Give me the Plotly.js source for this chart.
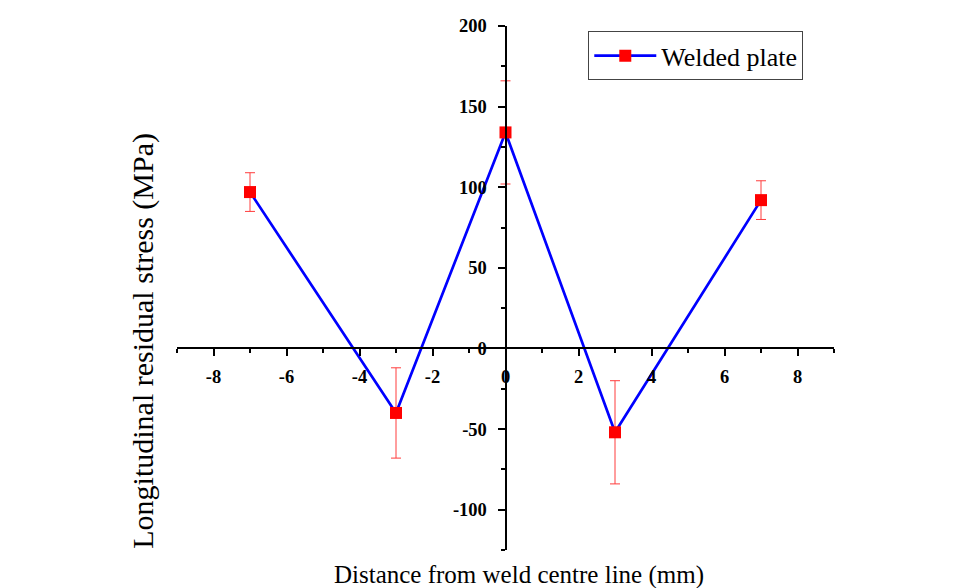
<!DOCTYPE html>
<html>
<head>
<meta charset="utf-8">
<script src="https://cdn.plot.ly/plotly-3.0.1.min.js"></script>
<style>
  html, body { margin: 0; padding: 0; background: #ffffff; }
  #chart { width: 954px; height: 588px; }
</style>
</head>
<body>
<div id="chart"></div>
<script>
// Longitudinal residual stress across the weld
const distanceMm = [-7, -3, 0, 3, 7];
const stressMPa = [97, -40, 134, -52, 92];
const stressErr = [12, 28, 32, 32, 12];
const seriesName = 'Welded plate';
const xTitle = 'Distance from weld centre line (mm)';
const yTitle = 'Longitudinal residual stress (MPa)';

const xTickVals = [-8, -6, -4, -2, 0, 2, 4, 6, 8];
const xTickText = ['-8', '-6', '-4', '-2', '0', '2', '4', '6', '8'];
const yTickVals = [-100, -50, 0, 50, 100, 150, 200];
const yTickText = ['-100', '-50', '0', '50', '100', '150', '200'];

const xRange = [-9, 9];
const yRange = [-125, 200];

const serif = 'Liberation Serif';

const trace = {
  type: 'scatter',
  mode: 'lines+markers',
  name: seriesName,
  x: distanceMm,
  y: stressMPa,
  line: { color: '#0000ff', width: 2.7 },
  marker: { symbol: 'square', size: 12, color: '#ff0000' },
  error_y: {
    type: 'data',
    array: stressErr,
    visible: true,
    color: '#ff3c3c',
    thickness: 1,
    width: 5
  }
};

// axes cross at the origin: place each axis line at the other axis' zero
const xAxisPos = (0 - yRange[0]) / (yRange[1] - yRange[0]);
const yAxisPos = (0 - xRange[0]) / (xRange[1] - xRange[0]);

const tickFont = { family: serif, size: 18.5, color: '#000000', weight: 700 };

const layout = {
  width: 954,
  height: 588,
  paper_bgcolor: '#ffffff',
  plot_bgcolor: 'rgba(0,0,0,0)',
  margin: { l: 177, r: 120, t: 26, b: 38 },
  showlegend: true,
  legend: {
    x: 0.626, y: 0.99, xanchor: 'left', yanchor: 'top',
    bordercolor: '#444444', borderwidth: 1, bgcolor: '#ffffff',
    font: { family: serif, size: 26, color: '#000000' },
    itemwidth: 62,
    tracegroupgap: 0
  },
  xaxis: {
    range: xRange,
    anchor: 'free',
    position: xAxisPos,
    showgrid: false,
    zeroline: false,
    showline: true,
    linecolor: '#000000',
    linewidth: 2,
    ticks: 'outside',
    ticklen: 7,
    tickwidth: 2,
    tickcolor: '#000000',
    tickmode: 'array',
    tickvals: xTickVals,
    ticktext: xTickText,
    minor: { ticks: 'outside', tick0: 1, dtick: 2, ticklen: 4, tickwidth: 2, tickcolor: '#000000', showgrid: false },
    tickfont: tickFont,
    ticklabelstandoff: 4
  },
  yaxis: {
    range: yRange,
    anchor: 'free',
    position: yAxisPos,
    showgrid: false,
    zeroline: false,
    showline: true,
    linecolor: '#000000',
    linewidth: 2,
    ticks: 'outside',
    ticklen: 7,
    tickwidth: 2,
    tickcolor: '#000000',
    tickmode: 'array',
    tickvals: yTickVals,
    ticktext: yTickText,
    minor: { ticks: 'outside', tick0: 25, dtick: 50, ticklen: 4, tickwidth: 2, tickcolor: '#000000', showgrid: false },
    tickfont: tickFont,
    ticklabelstandoff: 7
  },
  annotations: [
    {
      text: xTitle, xref: 'paper', yref: 'paper',
      x: 0.521, y: -0.047, xanchor: 'center', yanchor: 'middle', showarrow: false,
      font: { family: serif, size: 25, color: '#000000' }
    },
    {
      text: yTitle, xref: 'paper', yref: 'paper', textangle: -90,
      x: -0.052, y: 0.399, xanchor: 'center', yanchor: 'middle', showarrow: false,
      font: { family: serif, size: 30, color: '#000000' }
    }
  ]
};

Plotly.newPlot('chart', [trace], layout, { displayModeBar: false, staticPlot: true });
</script>
</body>
</html>
